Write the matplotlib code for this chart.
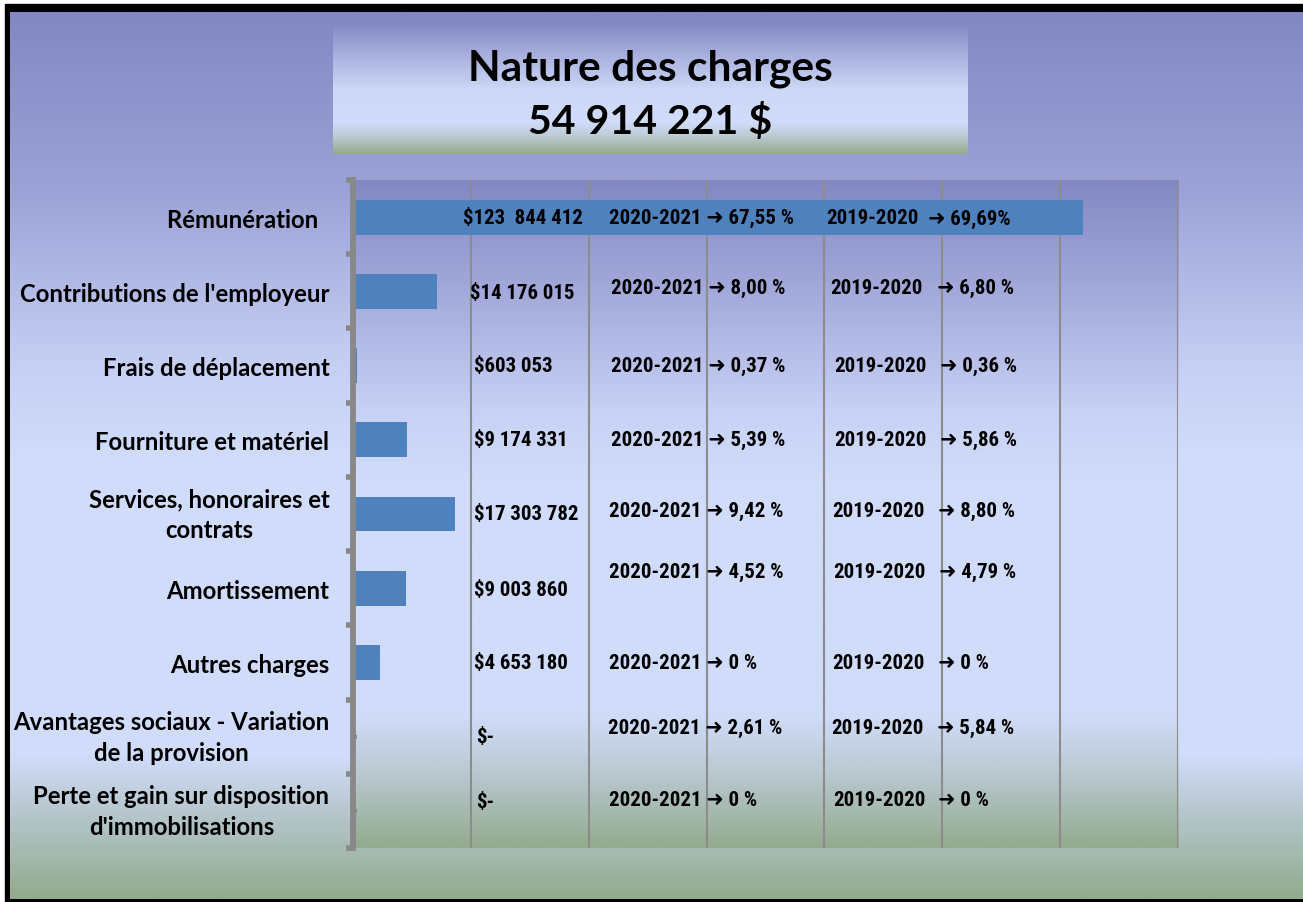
import numpy as np
import matplotlib
matplotlib.use('Agg')
import matplotlib.pyplot as plt
from matplotlib.colors import LinearSegmentedColormap
from matplotlib.patches import Rectangle
from matplotlib.ticker import FixedLocator, MultipleLocator

# ---------------- data ----------------
categories = ["Rémunération  ", "Contributions de l'employeur", "Frais de déplacement",
              "Fourniture et matériel", "Services, honoraires et\ncontrats", "Amortissement",
              "Autres charges", "Avantages sociaux - Variation\nde la provision",
              "Perte et gain sur disposition\nd'immobilisations"]
values = [123844412, 14176015, 603053, 9174331, 17303782, 9003860, 4653180, 0, 0]
value_labels = ["$123  844 412", "$14 176 015", "$603 053", "$9 174 331", "$17 303 782",
                "$9 003 860", "$4 653 180", "$-", "$-"]
pct_2021 = ["67,55 %", "8,00 %", "0,37 %", "5,39 %", "9,42 %", "4,52 %", "0 %", "2,61 %", "0 %"]
pct_2020 = ["69,69%", "6,80 %", "0,36 %", "5,86 %", "8,80 %", "4,79 %", "0 %", "5,84 %", "0 %"]
period_2021 = "2020-2021"
period_2020 = "2019-2020"
arrow = "\u279c"
title_lines = ["Nature des charges", "54 914 221 $"]
x_max = 140e6
x_step = 20e6

# ---------------- layout ----------------
W, H = 1303, 903
fig = plt.figure(figsize=(W / 100, H / 100), dpi=100)
fig.patch.set_facecolor('white')

def cmap_of(stops):
    return LinearSegmentedColormap.from_list('g', stops)

grad = np.linspace(0, 1, 512).reshape(-1, 1)

bg = fig.add_axes([0, 0, 1, 1], zorder=0)
bg.set_xlim(0, W); bg.set_ylim(H, 0); bg.axis('off')
bg.add_patch(Rectangle((5, 5), W, H, color='black', zorder=0))
fig_stops = [(0.0, '#8388c3'), (0.2, '#9ca2d6'), (0.4, '#c6d0f4'), (0.5, '#d0dcfa'),
             (0.84, '#d0dcfa'), (0.9, '#b8c8d0'), (1.0, '#93aa8e')]
bg.imshow(grad, cmap=cmap_of(fig_stops), aspect='auto', extent=[10, W, 900, 13],
          interpolation='bilinear', zorder=1)

# title box
tb_l, tb_t, tb_r, tb_b = 333, 27, 968, 155
tb = fig.add_axes([tb_l / W, 1 - tb_b / H, (tb_r - tb_l) / W, (tb_b - tb_t) / H], zorder=1)
tb.axis('off')
tb_stops = [(0.0, '#878cc6'), (0.15, '#9ea4d6'), (0.5, '#cdd8f6'), (0.75, '#d0dcfa'),
            (0.85, '#c0cdd8'), (1.0, '#94aa8c')]
tb.imshow(grad, cmap=cmap_of(tb_stops), aspect='auto', extent=[0, 1, 0, 1],
          interpolation='bilinear')
tb.set_xlim(0, 1); tb.set_ylim(0, 1)
title_font = dict(family=['Lato', 'DejaVu Sans'], weight='bold', color='black')
tb.text(0.5, 0.675, title_lines[0], ha='center', va='center', fontsize=30.6, **title_font)
tb.text(0.5, 0.255, title_lines[1], ha='center', va='center', fontsize=29.5, **title_font)

# plot area
pl, pt, pr, pb = 353, 181, 1178, 849
rect = [pl / W, 1 - pb / H, (pr - pl) / W, (pb - pt) / H]
pbg = fig.add_axes(rect, zorder=1)
pbg.axis('off')
plot_stops = [(0.0, '#8488c2'), (0.15, '#a0a6d8'), (0.35, '#c8d2f6'), (0.45, '#d0dcfa'),
              (0.8, '#d0dcfa'), (0.88, '#bccbd6'), (1.0, '#94ab8f')]
pbg.imshow(grad, cmap=cmap_of(plot_stops), aspect='auto', extent=[0, 1, 0, 1],
           interpolation='bilinear')
pbg.set_xlim(0, 1); pbg.set_ylim(0, 1)

ax = fig.add_axes(rect, zorder=2)
ax.patch.set_alpha(0)
y = np.arange(len(categories))
ax.barh(y, values, height=0.47, color='#4f81bd', zorder=3)
ax.set_xlim(0, x_max)
ax.set_ylim(len(categories) - 0.5, -0.5)
ax.xaxis.set_major_locator(MultipleLocator(x_step))
ax.grid(axis='x', color='#8c8c8c', linewidth=1.5, zorder=1)
ax.set_axisbelow(True)
ax.tick_params(axis='x', bottom=False, labelbottom=False)
for s in ['top', 'bottom', 'right']:
    ax.spines[s].set_visible(False)
ax.spines['left'].set_color('#888888')
ax.spines['left'].set_linewidth(4.2)
ax.spines['left'].set_zorder(4)

ax.yaxis.set_major_locator(FixedLocator(y))
ax.yaxis.set_minor_locator(FixedLocator(np.arange(len(categories) + 1) - 0.5))
ax.set_yticklabels(categories, multialignment='center', fontsize=17.2,
                   family=['Lato', 'DejaVu Sans'], weight='bold', linespacing=1.42)
for lbl in ax.get_yticklabels():
    if '\n' in lbl.get_text():
        lbl.set_verticalalignment('center')
ax.tick_params(axis='y', which='major', direction='in', length=3, width=3,
               color='#888888', pad=17)
ax.tick_params(axis='y', which='minor', direction='out', length=5, width=4,
               color='#888888')

# data text columns (data units of x), nudges in pixels / row units
px = x_max / (pr - pl)
col_val = 20.6e6
col_p21 = 43.8e6
col_p20 = 81.3e6
col_arrow = 99.2e6
val_dx = [-11, -4, 0, 0, 0, 0, 0, 2, 2]
pct_dx = [-2, 0, 0, 0, -2, -2, -2, -3, -2]
p20_dx = [-6, -2, 2, 2, 0, 1, 0, -1, 1]
arr_dx = [-10, -1, 2, 2, 0, 1, 0, -1, 0]
val_dy = [0, 0.02, 0, 0, 0, 0.02, 0, 0, -0.12]
pct_dy = [0, -0.05, 0, 0, -0.05, -0.22, 0, -0.12, -0.15]
arr_dy = [0.02, -0.05, 0, 0, -0.05, -0.22, 0, -0.12, -0.15]

num_font = dict(family=['Roboto Condensed', 'DejaVu Sans'], weight='bold',
                fontsize=15, color='black', va='center', ha='left', zorder=5)
for i in range(len(categories)):
    ax.text(col_val + val_dx[i] * px, i + val_dy[i], value_labels[i], **num_font)
    ax.text(col_p21 + pct_dx[i] * px, i + pct_dy[i],
            f"{period_2021} {arrow} {pct_2021[i]}", **num_font)
    ax.text(col_p20 + p20_dx[i] * px, i + pct_dy[i], period_2020, **num_font)
    ax.text(col_arrow + arr_dx[i] * px, i + arr_dy[i], f"{arrow} {pct_2020[i]}", **num_font)

fig.savefig('out.png', dpi=100)
